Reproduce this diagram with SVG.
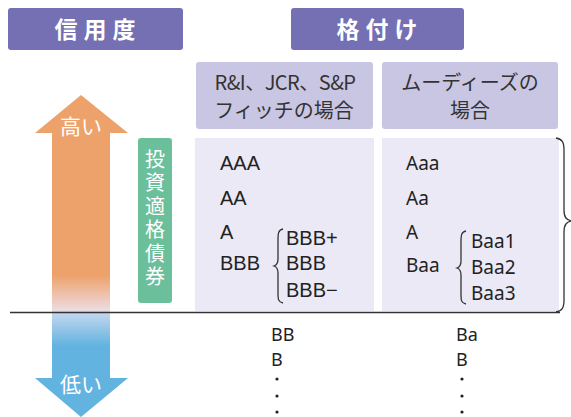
<svg xmlns="http://www.w3.org/2000/svg" width="571" height="417" viewBox="0 0 571 417">
<defs>
<linearGradient id="arr" gradientUnits="userSpaceOnUse" x1="0" y1="95" x2="0" y2="417">
<stop offset="0" stop-color="#eda26c"/>
<stop offset="0.56" stop-color="#eda26c"/>
<stop offset="0.668" stop-color="#eddbe0"/>
<stop offset="0.676" stop-color="#c3d7ee"/>
<stop offset="0.78" stop-color="#62b3e0"/>
<stop offset="1" stop-color="#62b3e0"/>
</linearGradient>
<style>
.title{fill:#7470b3}
.title-t{fill:#fff;font-family:"Noto Sans CJK JP",sans-serif;font-size:23px;font-weight:bold;letter-spacing:6px;text-anchor:middle}
.hdr{fill:#c9c6e4}
.hdr-t{fill:#333;font-family:"Noto Sans CJK JP",sans-serif;font-size:20px;text-anchor:middle}
.body{fill:#eae9f5}
.r1{fill:#222;font-family:"Liberation Sans",Arial,sans-serif;font-size:20px}
.r2{fill:#222;font-family:"Noto Sans","Open Sans",sans-serif;font-size:19px}
.r3{fill:#222;font-family:"Noto Sans","Open Sans",sans-serif;font-size:18px}
.wt{fill:#fff;font-family:"Noto Sans CJK JP",sans-serif;font-size:21px;text-anchor:middle}
.brace{fill:none;stroke:#333;stroke-width:1.3}
</style>
</defs>
<g id="credit-title"><rect class="title" x="8" y="8" width="175" height="42" rx="3"/><text class="title-t" x="98" y="38">信用度</text></g>
<g id="rating-title"><rect class="title" x="291" y="8" width="173" height="42" rx="3"/><text class="title-t" x="380" y="38">格付け</text></g>
<g id="hdr-left"><rect class="hdr" x="196" y="62" width="177" height="67" rx="3"/><text class="hdr-t" x="285" y="90" letter-spacing="-0.5">R&amp;I、JCR、S&amp;P</text><text class="hdr-t" x="284" y="118">フィッチの場合</text></g>
<g id="hdr-right"><rect class="hdr" x="382" y="62" width="176" height="67" rx="3"/><text class="hdr-t" x="470" y="90">ムーディーズの</text><text class="hdr-t" x="470" y="118">場合</text></g>
<g id="body-left"><rect class="body" x="195" y="138" width="179" height="173"/>
<text class="r1" x="220" y="170">AAA</text>
<text class="r1" x="220" y="205">AA</text>
<text class="r1" x="220" y="239">A</text>
<text class="r1" x="220" y="270">BBB</text>
<path class="brace" d="M283,229 C278,230 278,234 278,240 L278,259 C278,263 277,265 274,266 C277,267 278,269 278,273 L278,293 C278,299 278,302 283,303"/>
<text class="r1" x="286" y="245">BBB+</text>
<text class="r1" x="286" y="270">BBB</text>
<text class="r1" x="286" y="297">BBB−</text>
</g>
<g id="body-right"><rect class="body" x="382" y="138" width="177" height="173"/>
<text class="r2" x="406" y="170">Aaa</text>
<text class="r2" x="406" y="205">Aa</text>
<text class="r2" x="406" y="239">A</text>
<text class="r2" x="406" y="272">Baa</text>
<path class="brace" d="M466,231 C461,232 461,236 461,242 L461,261 C461,265 460,267 457,268 C460,269 461,271 461,275 L461,294 C461,300 461,303 466,304"/>
<text class="r2" x="471" y="248">Baa1</text>
<text class="r2" x="471" y="274">Baa2</text>
<text class="r2" x="471" y="300">Baa3</text>
</g>
<g id="big-brace"><path class="brace" d="M556,138 C562,139 564,142 564,150 L564,210 C564,217 566,220 572,221 C566,222 564,225 564,232 L564,300 C564,308 562,311 556,312"/></g>
<g id="arrow"><path fill="url(#arr)" d="M81,95 L128,133 L110,133 L110,378 L128,378 L81,417 L35,378 L52,378 L52,133 L35,133 Z"/>
<text class="wt" x="81" y="134">高い</text>
<text class="wt" x="81" y="392">低い</text></g>
<g id="investment-grade"><rect x="138" y="138" width="34" height="165" rx="3" fill="#6cbf9b"/>
<text fill="#fff" x="155" y="149" style="font-family:'Noto Sans CJK JP',sans-serif;font-size:20px;writing-mode:vertical-rl;letter-spacing:3.5px">投資適格債券</text></g>
<g id="connectors"><line x1="10" y1="312.5" x2="560" y2="312.5" stroke="#333" stroke-width="1.3"/></g>
<g id="below-left">
<text class="r3" x="271" y="341">BB</text>
<text class="r3" x="271" y="366">B</text>
<circle cx="277" cy="379" r="1.6" fill="#222"/><circle cx="277" cy="396" r="1.6" fill="#222"/><circle cx="277" cy="412" r="1.6" fill="#222"/>
</g>
<g id="below-right">
<text class="r3" x="456" y="341">Ba</text>
<text class="r3" x="456" y="366">B</text>
<circle cx="462" cy="379" r="1.6" fill="#222"/><circle cx="462" cy="396" r="1.6" fill="#222"/><circle cx="462" cy="412" r="1.6" fill="#222"/>
</g>
</svg>
